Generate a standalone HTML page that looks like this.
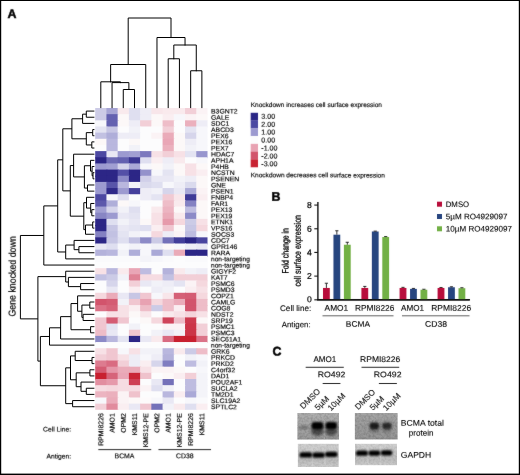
<!DOCTYPE html>
<html><head><meta charset="utf-8"><title>Figure</title>
<style>
html,body{margin:0;padding:0;background:#fff;}
body{width:520px;height:475px;overflow:hidden;font-family:"Liberation Sans", sans-serif;}
svg{display:block;}
</style></head><body>
<svg width="520" height="475" viewBox="0 0 520 475" text-rendering="geometricPrecision">
<defs><filter id="gs" filterUnits="userSpaceOnUse" x="0" y="0" width="520" height="475"><feOffset dx="0" dy="0"/></filter><filter id="sf" filterUnits="userSpaceOnUse" x="0" y="0" width="520" height="475"><feConvolveMatrix order="3" kernelMatrix="0.15 0.6 0.15 0.6 8 0.6 0.15 0.6 0.15" edgeMode="none" preserveAlpha="false"/></filter><filter id="sf2" filterUnits="userSpaceOnUse" x="0" y="0" width="520" height="475"><feConvolveMatrix order="3" kernelMatrix="0.05 0.3 0.05 0.3 8 0.3 0.05 0.3 0.05" edgeMode="none" preserveAlpha="false"/></filter></defs><g filter="url(#gs)">
<rect x="0" y="0" width="520" height="475" fill="#fff"/>
<rect x="0" y="0" width="520" height="1" fill="#000"/><rect x="518.8" y="0" width="1.2" height="475" fill="#000"/><rect x="0" y="0" width="1.2" height="475" fill="#000"/><rect x="0" y="473.6" width="520" height="1.4" fill="#000"/>
<g shape-rendering="auto">
<rect x="95.20" y="108.00" width="12.23" height="7.16" fill="#cccbe6"/>
<rect x="106.43" y="108.00" width="12.23" height="7.16" fill="#a6a4d4"/>
<rect x="117.66" y="108.00" width="12.23" height="7.16" fill="#f9eaed"/>
<rect x="128.89" y="108.00" width="12.23" height="7.16" fill="#dfdff0"/>
<rect x="140.12" y="108.00" width="12.23" height="7.16" fill="#eeedf6"/>
<rect x="151.35" y="108.00" width="12.23" height="7.16" fill="#f8e6ea"/>
<rect x="162.58" y="108.00" width="12.23" height="7.16" fill="#f9eaed"/>
<rect x="173.81" y="108.00" width="12.23" height="7.16" fill="#f9eaed"/>
<rect x="185.04" y="108.00" width="12.23" height="7.16" fill="#f2cfd7"/>
<rect x="196.27" y="108.00" width="11.23" height="7.16" fill="#fbf3f5"/>
<rect x="95.20" y="114.16" width="12.23" height="7.16" fill="#cccbe6"/>
<rect x="106.43" y="114.16" width="12.23" height="7.16" fill="#6461b0"/>
<rect x="117.66" y="114.16" width="12.23" height="7.16" fill="#fcf8f8"/>
<rect x="128.89" y="114.16" width="12.23" height="7.16" fill="#dfdff0"/>
<rect x="140.12" y="114.16" width="12.23" height="7.16" fill="#eeedf6"/>
<rect x="151.35" y="114.16" width="12.23" height="7.16" fill="#fcf8f8"/>
<rect x="162.58" y="114.16" width="12.23" height="7.16" fill="#faeef1"/>
<rect x="173.81" y="114.16" width="12.23" height="7.16" fill="#f7f7fb"/>
<rect x="185.04" y="114.16" width="12.23" height="7.16" fill="#fbf3f5"/>
<rect x="196.27" y="114.16" width="11.23" height="7.16" fill="#fcf8f8"/>
<rect x="95.20" y="120.32" width="12.23" height="7.16" fill="#f7f7fb"/>
<rect x="106.43" y="120.32" width="12.23" height="7.16" fill="#6461b0"/>
<rect x="117.66" y="120.32" width="12.23" height="7.16" fill="#fcf8f8"/>
<rect x="128.89" y="120.32" width="12.23" height="7.16" fill="#eeedf6"/>
<rect x="140.12" y="120.32" width="12.23" height="7.16" fill="#f2cfd7"/>
<rect x="151.35" y="120.32" width="12.23" height="7.16" fill="#fcf8f8"/>
<rect x="162.58" y="120.32" width="12.23" height="7.16" fill="#eebdc8"/>
<rect x="173.81" y="120.32" width="12.23" height="7.16" fill="#fcfcfd"/>
<rect x="185.04" y="120.32" width="12.23" height="7.16" fill="#ebb0bd"/>
<rect x="196.27" y="120.32" width="11.23" height="7.16" fill="#eeedf6"/>
<rect x="95.20" y="126.48" width="12.23" height="7.16" fill="#e4e4f2"/>
<rect x="106.43" y="126.48" width="12.23" height="7.16" fill="#c7c6e4"/>
<rect x="117.66" y="126.48" width="12.23" height="7.16" fill="#fcfcfd"/>
<rect x="128.89" y="126.48" width="12.23" height="7.16" fill="#f2f2f8"/>
<rect x="140.12" y="126.48" width="12.23" height="7.16" fill="#fcfcfd"/>
<rect x="151.35" y="126.48" width="12.23" height="7.16" fill="#fcfcfd"/>
<rect x="162.58" y="126.48" width="12.23" height="7.16" fill="#f2cfd7"/>
<rect x="173.81" y="126.48" width="12.23" height="7.16" fill="#fcfcfd"/>
<rect x="185.04" y="126.48" width="12.23" height="7.16" fill="#e4e4f2"/>
<rect x="196.27" y="126.48" width="11.23" height="7.16" fill="#f7f7fb"/>
<rect x="95.20" y="132.64" width="12.23" height="7.16" fill="#c2c1e2"/>
<rect x="106.43" y="132.64" width="12.23" height="7.16" fill="#afaed9"/>
<rect x="117.66" y="132.64" width="12.23" height="7.16" fill="#eeedf6"/>
<rect x="128.89" y="132.64" width="12.23" height="7.16" fill="#eeedf6"/>
<rect x="140.12" y="132.64" width="12.23" height="7.16" fill="#fcfcfd"/>
<rect x="151.35" y="132.64" width="12.23" height="7.16" fill="#fbf3f5"/>
<rect x="162.58" y="132.64" width="12.23" height="7.16" fill="#eaabb9"/>
<rect x="173.81" y="132.64" width="12.23" height="7.16" fill="#fcf8f8"/>
<rect x="185.04" y="132.64" width="12.23" height="7.16" fill="#d6d5eb"/>
<rect x="196.27" y="132.64" width="11.23" height="7.16" fill="#f7f7fb"/>
<rect x="95.20" y="138.80" width="12.23" height="7.16" fill="#fcf8f8"/>
<rect x="106.43" y="138.80" width="12.23" height="7.16" fill="#b9b7de"/>
<rect x="117.66" y="138.80" width="12.23" height="7.16" fill="#fcfcfd"/>
<rect x="128.89" y="138.80" width="12.23" height="7.16" fill="#fcf8f8"/>
<rect x="140.12" y="138.80" width="12.23" height="7.16" fill="#fcfcfd"/>
<rect x="151.35" y="138.80" width="12.23" height="7.16" fill="#fcfcfd"/>
<rect x="162.58" y="138.80" width="12.23" height="7.16" fill="#e9a6b6"/>
<rect x="173.81" y="138.80" width="12.23" height="7.16" fill="#fcf8f8"/>
<rect x="185.04" y="138.80" width="12.23" height="7.16" fill="#eeedf6"/>
<rect x="196.27" y="138.80" width="11.23" height="7.16" fill="#f7f7fb"/>
<rect x="95.20" y="144.96" width="12.23" height="7.16" fill="#fcfcfd"/>
<rect x="106.43" y="144.96" width="12.23" height="7.16" fill="#b9b7de"/>
<rect x="117.66" y="144.96" width="12.23" height="7.16" fill="#fcfcfd"/>
<rect x="128.89" y="144.96" width="12.23" height="7.16" fill="#f2f2f8"/>
<rect x="140.12" y="144.96" width="12.23" height="7.16" fill="#fcfcfd"/>
<rect x="151.35" y="144.96" width="12.23" height="7.16" fill="#fcfcfd"/>
<rect x="162.58" y="144.96" width="12.23" height="7.16" fill="#ebb0bd"/>
<rect x="173.81" y="144.96" width="12.23" height="7.16" fill="#fcf8f8"/>
<rect x="185.04" y="144.96" width="12.23" height="7.16" fill="#f2f2f8"/>
<rect x="196.27" y="144.96" width="11.23" height="7.16" fill="#f7f7fb"/>
<rect x="95.20" y="151.11" width="12.23" height="7.16" fill="#4c48a2"/>
<rect x="106.43" y="151.11" width="12.23" height="7.16" fill="#e9e8f4"/>
<rect x="117.66" y="151.11" width="12.23" height="7.16" fill="#9c9ad0"/>
<rect x="128.89" y="151.11" width="12.23" height="7.16" fill="#a19fd2"/>
<rect x="140.12" y="151.11" width="12.23" height="7.16" fill="#7c79be"/>
<rect x="151.35" y="151.11" width="12.23" height="7.16" fill="#f7e1e6"/>
<rect x="162.58" y="151.11" width="12.23" height="7.16" fill="#f2cfd7"/>
<rect x="173.81" y="151.11" width="12.23" height="7.16" fill="#f7e1e6"/>
<rect x="185.04" y="151.11" width="12.23" height="7.16" fill="#e4e4f2"/>
<rect x="196.27" y="151.11" width="11.23" height="7.16" fill="#9896ce"/>
<rect x="95.20" y="157.27" width="12.23" height="7.16" fill="#2c2686"/>
<rect x="106.43" y="157.27" width="12.23" height="7.16" fill="#6c69b4"/>
<rect x="117.66" y="157.27" width="12.23" height="7.16" fill="#6461b0"/>
<rect x="128.89" y="157.27" width="12.23" height="7.16" fill="#3c3794"/>
<rect x="140.12" y="157.27" width="12.23" height="7.16" fill="#dfdff0"/>
<rect x="151.35" y="157.27" width="12.23" height="7.16" fill="#faeef1"/>
<rect x="162.58" y="157.27" width="12.23" height="7.16" fill="#eeedf6"/>
<rect x="173.81" y="157.27" width="12.23" height="7.16" fill="#f9eaed"/>
<rect x="185.04" y="157.27" width="12.23" height="7.16" fill="#fcfcfd"/>
<rect x="196.27" y="157.27" width="11.23" height="7.16" fill="#f7f7fb"/>
<rect x="95.20" y="163.43" width="12.23" height="7.16" fill="#9c9ad0"/>
<rect x="106.43" y="163.43" width="12.23" height="7.16" fill="#a19fd2"/>
<rect x="117.66" y="163.43" width="12.23" height="7.16" fill="#d6d5eb"/>
<rect x="128.89" y="163.43" width="12.23" height="7.16" fill="#aaa9d7"/>
<rect x="140.12" y="163.43" width="12.23" height="7.16" fill="#f7f7fb"/>
<rect x="151.35" y="163.43" width="12.23" height="7.16" fill="#fcf8f8"/>
<rect x="162.58" y="163.43" width="12.23" height="7.16" fill="#f2f2f8"/>
<rect x="173.81" y="163.43" width="12.23" height="7.16" fill="#fcf8f8"/>
<rect x="185.04" y="163.43" width="12.23" height="7.16" fill="#f7e1e6"/>
<rect x="196.27" y="163.43" width="11.23" height="7.16" fill="#fcf8f8"/>
<rect x="95.20" y="169.59" width="12.23" height="7.16" fill="#2c2686"/>
<rect x="106.43" y="169.59" width="12.23" height="7.16" fill="#2c2686"/>
<rect x="117.66" y="169.59" width="12.23" height="7.16" fill="#5450a7"/>
<rect x="128.89" y="169.59" width="12.23" height="7.16" fill="#2c2686"/>
<rect x="140.12" y="169.59" width="12.23" height="7.16" fill="#9492cb"/>
<rect x="151.35" y="169.59" width="12.23" height="7.16" fill="#f7f7fb"/>
<rect x="162.58" y="169.59" width="12.23" height="7.16" fill="#e4e4f2"/>
<rect x="173.81" y="169.59" width="12.23" height="7.16" fill="#fcf8f8"/>
<rect x="185.04" y="169.59" width="12.23" height="7.16" fill="#f7e1e6"/>
<rect x="196.27" y="169.59" width="11.23" height="7.16" fill="#faeef1"/>
<rect x="95.20" y="175.75" width="12.23" height="7.16" fill="#2c2686"/>
<rect x="106.43" y="175.75" width="12.23" height="7.16" fill="#2c2686"/>
<rect x="117.66" y="175.75" width="12.23" height="7.16" fill="#8c8ac7"/>
<rect x="128.89" y="175.75" width="12.23" height="7.16" fill="#2c2686"/>
<rect x="140.12" y="175.75" width="12.23" height="7.16" fill="#d1d0e9"/>
<rect x="151.35" y="175.75" width="12.23" height="7.16" fill="#e9e8f4"/>
<rect x="162.58" y="175.75" width="12.23" height="7.16" fill="#e9e8f4"/>
<rect x="173.81" y="175.75" width="12.23" height="7.16" fill="#f2f2f8"/>
<rect x="185.04" y="175.75" width="12.23" height="7.16" fill="#eeedf6"/>
<rect x="196.27" y="175.75" width="11.23" height="7.16" fill="#fcf8f8"/>
<rect x="95.20" y="181.91" width="12.23" height="7.16" fill="#9c9ad0"/>
<rect x="106.43" y="181.91" width="12.23" height="7.16" fill="#5854a9"/>
<rect x="117.66" y="181.91" width="12.23" height="7.16" fill="#b9b7de"/>
<rect x="128.89" y="181.91" width="12.23" height="7.16" fill="#f2f2f8"/>
<rect x="140.12" y="181.91" width="12.23" height="7.16" fill="#dadaed"/>
<rect x="151.35" y="181.91" width="12.23" height="7.16" fill="#dfdff0"/>
<rect x="162.58" y="181.91" width="12.23" height="7.16" fill="#f7f7fb"/>
<rect x="173.81" y="181.91" width="12.23" height="7.16" fill="#eeedf6"/>
<rect x="185.04" y="181.91" width="12.23" height="7.16" fill="#dadaed"/>
<rect x="196.27" y="181.91" width="11.23" height="7.16" fill="#fcf8f8"/>
<rect x="95.20" y="188.07" width="12.23" height="7.16" fill="#9c9ad0"/>
<rect x="106.43" y="188.07" width="12.23" height="7.16" fill="#2f2989"/>
<rect x="117.66" y="188.07" width="12.23" height="7.16" fill="#9c9ad0"/>
<rect x="128.89" y="188.07" width="12.23" height="7.16" fill="#46419c"/>
<rect x="140.12" y="188.07" width="12.23" height="7.16" fill="#eeedf6"/>
<rect x="151.35" y="188.07" width="12.23" height="7.16" fill="#f2f2f8"/>
<rect x="162.58" y="188.07" width="12.23" height="7.16" fill="#d6d5eb"/>
<rect x="173.81" y="188.07" width="12.23" height="7.16" fill="#e9e8f4"/>
<rect x="185.04" y="188.07" width="12.23" height="7.16" fill="#aaa9d7"/>
<rect x="196.27" y="188.07" width="11.23" height="7.16" fill="#fbf3f5"/>
<rect x="95.20" y="194.23" width="12.23" height="7.16" fill="#4c48a2"/>
<rect x="106.43" y="194.23" width="12.23" height="7.16" fill="#f7f7fb"/>
<rect x="117.66" y="194.23" width="12.23" height="7.16" fill="#dfdff0"/>
<rect x="128.89" y="194.23" width="12.23" height="7.16" fill="#fcfcfd"/>
<rect x="140.12" y="194.23" width="12.23" height="7.16" fill="#eeedf6"/>
<rect x="151.35" y="194.23" width="12.23" height="7.16" fill="#e4e4f2"/>
<rect x="162.58" y="194.23" width="12.23" height="7.16" fill="#f1cad3"/>
<rect x="173.81" y="194.23" width="12.23" height="7.16" fill="#f8e6ea"/>
<rect x="185.04" y="194.23" width="12.23" height="7.16" fill="#3f3a97"/>
<rect x="196.27" y="194.23" width="11.23" height="7.16" fill="#faeef1"/>
<rect x="95.20" y="200.39" width="12.23" height="7.16" fill="#5c58ab"/>
<rect x="106.43" y="200.39" width="12.23" height="7.16" fill="#afaed9"/>
<rect x="117.66" y="200.39" width="12.23" height="7.16" fill="#fcf8f8"/>
<rect x="128.89" y="200.39" width="12.23" height="7.16" fill="#f7f7fb"/>
<rect x="140.12" y="200.39" width="12.23" height="7.16" fill="#fcfcfd"/>
<rect x="151.35" y="200.39" width="12.23" height="7.16" fill="#fcfcfd"/>
<rect x="162.58" y="200.39" width="12.23" height="7.16" fill="#eebdc8"/>
<rect x="173.81" y="200.39" width="12.23" height="7.16" fill="#f9eaed"/>
<rect x="185.04" y="200.39" width="12.23" height="7.16" fill="#8481c2"/>
<rect x="196.27" y="200.39" width="11.23" height="7.16" fill="#fcf8f8"/>
<rect x="95.20" y="206.55" width="12.23" height="7.16" fill="#a19fd2"/>
<rect x="106.43" y="206.55" width="12.23" height="7.16" fill="#d6d5eb"/>
<rect x="117.66" y="206.55" width="12.23" height="7.16" fill="#f2f2f8"/>
<rect x="128.89" y="206.55" width="12.23" height="7.16" fill="#dfdff0"/>
<rect x="140.12" y="206.55" width="12.23" height="7.16" fill="#fcfcfd"/>
<rect x="151.35" y="206.55" width="12.23" height="7.16" fill="#f9eaed"/>
<rect x="162.58" y="206.55" width="12.23" height="7.16" fill="#ecb4c1"/>
<rect x="173.81" y="206.55" width="12.23" height="7.16" fill="#fcf8f8"/>
<rect x="185.04" y="206.55" width="12.23" height="7.16" fill="#bebce0"/>
<rect x="196.27" y="206.55" width="11.23" height="7.16" fill="#fcf8f8"/>
<rect x="95.20" y="212.71" width="12.23" height="7.16" fill="#8886c4"/>
<rect x="106.43" y="212.71" width="12.23" height="7.16" fill="#9c9ad0"/>
<rect x="117.66" y="212.71" width="12.23" height="7.16" fill="#e9e8f4"/>
<rect x="128.89" y="212.71" width="12.23" height="7.16" fill="#e4e4f2"/>
<rect x="140.12" y="212.71" width="12.23" height="7.16" fill="#fcfcfd"/>
<rect x="151.35" y="212.71" width="12.23" height="7.16" fill="#f7e1e6"/>
<rect x="162.58" y="212.71" width="12.23" height="7.16" fill="#eaabb9"/>
<rect x="173.81" y="212.71" width="12.23" height="7.16" fill="#f9eaed"/>
<rect x="185.04" y="212.71" width="12.23" height="7.16" fill="#8c8ac7"/>
<rect x="196.27" y="212.71" width="11.23" height="7.16" fill="#fcf8f8"/>
<rect x="95.20" y="218.87" width="12.23" height="7.16" fill="#2c2686"/>
<rect x="106.43" y="218.87" width="12.23" height="7.16" fill="#dfdff0"/>
<rect x="117.66" y="218.87" width="12.23" height="7.16" fill="#f2f2f8"/>
<rect x="128.89" y="218.87" width="12.23" height="7.16" fill="#e9e8f4"/>
<rect x="140.12" y="218.87" width="12.23" height="7.16" fill="#fcf8f8"/>
<rect x="151.35" y="218.87" width="12.23" height="7.16" fill="#f7e1e6"/>
<rect x="162.58" y="218.87" width="12.23" height="7.16" fill="#e69aab"/>
<rect x="173.81" y="218.87" width="12.23" height="7.16" fill="#f5d8de"/>
<rect x="185.04" y="218.87" width="12.23" height="7.16" fill="#cccbe6"/>
<rect x="196.27" y="218.87" width="11.23" height="7.16" fill="#f7e1e6"/>
<rect x="95.20" y="225.02" width="12.23" height="7.16" fill="#2c2686"/>
<rect x="106.43" y="225.02" width="12.23" height="7.16" fill="#c7c6e4"/>
<rect x="117.66" y="225.02" width="12.23" height="7.16" fill="#e9e8f4"/>
<rect x="128.89" y="225.02" width="12.23" height="7.16" fill="#e4e4f2"/>
<rect x="140.12" y="225.02" width="12.23" height="7.16" fill="#dfdff0"/>
<rect x="151.35" y="225.02" width="12.23" height="7.16" fill="#faeef1"/>
<rect x="162.58" y="225.02" width="12.23" height="7.16" fill="#f0c6d0"/>
<rect x="173.81" y="225.02" width="12.23" height="7.16" fill="#fcf8f8"/>
<rect x="185.04" y="225.02" width="12.23" height="7.16" fill="#c7c6e4"/>
<rect x="196.27" y="225.02" width="11.23" height="7.16" fill="#f5d8de"/>
<rect x="95.20" y="231.18" width="12.23" height="7.16" fill="#8481c2"/>
<rect x="106.43" y="231.18" width="12.23" height="7.16" fill="#c2c1e2"/>
<rect x="117.66" y="231.18" width="12.23" height="7.16" fill="#e4e4f2"/>
<rect x="128.89" y="231.18" width="12.23" height="7.16" fill="#f2f2f8"/>
<rect x="140.12" y="231.18" width="12.23" height="7.16" fill="#f7f7fb"/>
<rect x="151.35" y="231.18" width="12.23" height="7.16" fill="#f5d8de"/>
<rect x="162.58" y="231.18" width="12.23" height="7.16" fill="#eeedf6"/>
<rect x="173.81" y="231.18" width="12.23" height="7.16" fill="#fbf3f5"/>
<rect x="185.04" y="231.18" width="12.23" height="7.16" fill="#bebce0"/>
<rect x="196.27" y="231.18" width="11.23" height="7.16" fill="#f7f7fb"/>
<rect x="95.20" y="237.34" width="12.23" height="7.16" fill="#2c2686"/>
<rect x="106.43" y="237.34" width="12.23" height="7.16" fill="#c7c6e4"/>
<rect x="117.66" y="237.34" width="12.23" height="7.16" fill="#dfdff0"/>
<rect x="128.89" y="237.34" width="12.23" height="7.16" fill="#c2c1e2"/>
<rect x="140.12" y="237.34" width="12.23" height="7.16" fill="#8c8ac7"/>
<rect x="151.35" y="237.34" width="12.23" height="7.16" fill="#cccbe6"/>
<rect x="162.58" y="237.34" width="12.23" height="7.16" fill="#7471b9"/>
<rect x="173.81" y="237.34" width="12.23" height="7.16" fill="#423e9a"/>
<rect x="185.04" y="237.34" width="12.23" height="7.16" fill="#2c2686"/>
<rect x="196.27" y="237.34" width="11.23" height="7.16" fill="#49459f"/>
<rect x="95.20" y="243.50" width="12.23" height="7.16" fill="#e9e8f4"/>
<rect x="106.43" y="243.50" width="12.23" height="7.16" fill="#dfdff0"/>
<rect x="117.66" y="243.50" width="12.23" height="7.16" fill="#f7f7fb"/>
<rect x="128.89" y="243.50" width="12.23" height="7.16" fill="#f2f2f8"/>
<rect x="140.12" y="243.50" width="12.23" height="7.16" fill="#f7f7fb"/>
<rect x="151.35" y="243.50" width="12.23" height="7.16" fill="#f2f2f8"/>
<rect x="162.58" y="243.50" width="12.23" height="7.16" fill="#fcf8f8"/>
<rect x="173.81" y="243.50" width="12.23" height="7.16" fill="#f7f7fb"/>
<rect x="185.04" y="243.50" width="12.23" height="7.16" fill="#eeedf6"/>
<rect x="196.27" y="243.50" width="11.23" height="7.16" fill="#e9e8f4"/>
<rect x="95.20" y="249.66" width="12.23" height="7.16" fill="#b4b2db"/>
<rect x="106.43" y="249.66" width="12.23" height="7.16" fill="#b9b7de"/>
<rect x="117.66" y="249.66" width="12.23" height="7.16" fill="#f2f2f8"/>
<rect x="128.89" y="249.66" width="12.23" height="7.16" fill="#afaed9"/>
<rect x="140.12" y="249.66" width="12.23" height="7.16" fill="#f7f7fb"/>
<rect x="151.35" y="249.66" width="12.23" height="7.16" fill="#aaa9d7"/>
<rect x="162.58" y="249.66" width="12.23" height="7.16" fill="#dfdff0"/>
<rect x="173.81" y="249.66" width="12.23" height="7.16" fill="#eaabb9"/>
<rect x="185.04" y="249.66" width="12.23" height="7.16" fill="#2c2686"/>
<rect x="196.27" y="249.66" width="11.23" height="7.16" fill="#2c2686"/>
<rect x="95.20" y="255.82" width="12.23" height="7.16" fill="#fafafc"/>
<rect x="106.43" y="255.82" width="12.23" height="7.16" fill="#fafafc"/>
<rect x="117.66" y="255.82" width="12.23" height="7.16" fill="#fafafc"/>
<rect x="128.89" y="255.82" width="12.23" height="7.16" fill="#fafafc"/>
<rect x="140.12" y="255.82" width="12.23" height="7.16" fill="#f4f4f9"/>
<rect x="151.35" y="255.82" width="12.23" height="7.16" fill="#f7f7fb"/>
<rect x="162.58" y="255.82" width="12.23" height="7.16" fill="#fafafc"/>
<rect x="173.81" y="255.82" width="12.23" height="7.16" fill="#fcfcfd"/>
<rect x="185.04" y="255.82" width="12.23" height="7.16" fill="#fafafc"/>
<rect x="196.27" y="255.82" width="11.23" height="7.16" fill="#fafafc"/>
<rect x="95.20" y="261.98" width="12.23" height="7.16" fill="#fcfcfd"/>
<rect x="106.43" y="261.98" width="12.23" height="7.16" fill="#fcfcfd"/>
<rect x="117.66" y="261.98" width="12.23" height="7.16" fill="#fcfcfd"/>
<rect x="128.89" y="261.98" width="12.23" height="7.16" fill="#fcfcfd"/>
<rect x="140.12" y="261.98" width="12.23" height="7.16" fill="#fcfcfd"/>
<rect x="151.35" y="261.98" width="12.23" height="7.16" fill="#fcfcfd"/>
<rect x="162.58" y="261.98" width="12.23" height="7.16" fill="#fcfcfd"/>
<rect x="173.81" y="261.98" width="12.23" height="7.16" fill="#fcfcfd"/>
<rect x="185.04" y="261.98" width="12.23" height="7.16" fill="#fcfcfd"/>
<rect x="196.27" y="261.98" width="11.23" height="7.16" fill="#fcfcfd"/>
<rect x="95.20" y="268.14" width="12.23" height="7.16" fill="#f7e1e6"/>
<rect x="106.43" y="268.14" width="12.23" height="7.16" fill="#b9b7de"/>
<rect x="117.66" y="268.14" width="12.23" height="7.16" fill="#f9eaed"/>
<rect x="128.89" y="268.14" width="12.23" height="7.16" fill="#e9a6b6"/>
<rect x="140.12" y="268.14" width="12.23" height="7.16" fill="#bebce0"/>
<rect x="151.35" y="268.14" width="12.23" height="7.16" fill="#fcfcfd"/>
<rect x="162.58" y="268.14" width="12.23" height="7.16" fill="#b4b2db"/>
<rect x="173.81" y="268.14" width="12.23" height="7.16" fill="#f9eaed"/>
<rect x="185.04" y="268.14" width="12.23" height="7.16" fill="#f2f2f8"/>
<rect x="196.27" y="268.14" width="11.23" height="7.16" fill="#eeedf6"/>
<rect x="95.20" y="274.30" width="12.23" height="7.16" fill="#c2c1e2"/>
<rect x="106.43" y="274.30" width="12.23" height="7.16" fill="#cccbe6"/>
<rect x="117.66" y="274.30" width="12.23" height="7.16" fill="#f2f2f8"/>
<rect x="128.89" y="274.30" width="12.23" height="7.16" fill="#df8396"/>
<rect x="140.12" y="274.30" width="12.23" height="7.16" fill="#f6dce2"/>
<rect x="151.35" y="274.30" width="12.23" height="7.16" fill="#f6dce2"/>
<rect x="162.58" y="274.30" width="12.23" height="7.16" fill="#c2c1e2"/>
<rect x="173.81" y="274.30" width="12.23" height="7.16" fill="#f2cfd7"/>
<rect x="185.04" y="274.30" width="12.23" height="7.16" fill="#f2cfd7"/>
<rect x="196.27" y="274.30" width="11.23" height="7.16" fill="#f2cfd7"/>
<rect x="95.20" y="280.46" width="12.23" height="7.16" fill="#fcfcfd"/>
<rect x="106.43" y="280.46" width="12.23" height="7.16" fill="#d6d5eb"/>
<rect x="117.66" y="280.46" width="12.23" height="7.16" fill="#fcfcfd"/>
<rect x="128.89" y="280.46" width="12.23" height="7.16" fill="#f2cfd7"/>
<rect x="140.12" y="280.46" width="12.23" height="7.16" fill="#e9e8f4"/>
<rect x="151.35" y="280.46" width="12.23" height="7.16" fill="#f2f2f8"/>
<rect x="162.58" y="280.46" width="12.23" height="7.16" fill="#eeedf6"/>
<rect x="173.81" y="280.46" width="12.23" height="7.16" fill="#e4e4f2"/>
<rect x="185.04" y="280.46" width="12.23" height="7.16" fill="#fbf3f5"/>
<rect x="196.27" y="280.46" width="11.23" height="7.16" fill="#f5d8de"/>
<rect x="95.20" y="286.62" width="12.23" height="7.16" fill="#fcfcfd"/>
<rect x="106.43" y="286.62" width="12.23" height="7.16" fill="#e9e8f4"/>
<rect x="117.66" y="286.62" width="12.23" height="7.16" fill="#fcfcfd"/>
<rect x="128.89" y="286.62" width="12.23" height="7.16" fill="#faeef1"/>
<rect x="140.12" y="286.62" width="12.23" height="7.16" fill="#fcfcfd"/>
<rect x="151.35" y="286.62" width="12.23" height="7.16" fill="#eeedf6"/>
<rect x="162.58" y="286.62" width="12.23" height="7.16" fill="#f2f2f8"/>
<rect x="173.81" y="286.62" width="12.23" height="7.16" fill="#fcfcfd"/>
<rect x="185.04" y="286.62" width="12.23" height="7.16" fill="#faeef1"/>
<rect x="196.27" y="286.62" width="11.23" height="7.16" fill="#f7e1e6"/>
<rect x="95.20" y="292.78" width="12.23" height="7.16" fill="#f5d8de"/>
<rect x="106.43" y="292.78" width="12.23" height="7.16" fill="#eaabb9"/>
<rect x="117.66" y="292.78" width="12.23" height="7.16" fill="#e9e8f4"/>
<rect x="128.89" y="292.78" width="12.23" height="7.16" fill="#c7c6e4"/>
<rect x="140.12" y="292.78" width="12.23" height="7.16" fill="#f0c6d0"/>
<rect x="151.35" y="292.78" width="12.23" height="7.16" fill="#f7f7fb"/>
<rect x="162.58" y="292.78" width="12.23" height="7.16" fill="#f8e6ea"/>
<rect x="173.81" y="292.78" width="12.23" height="7.16" fill="#d56076"/>
<rect x="185.04" y="292.78" width="12.23" height="7.16" fill="#d45c73"/>
<rect x="196.27" y="292.78" width="11.23" height="7.16" fill="#f5d8de"/>
<rect x="95.20" y="298.93" width="12.23" height="7.16" fill="#d2546c"/>
<rect x="106.43" y="298.93" width="12.23" height="7.16" fill="#d45c73"/>
<rect x="117.66" y="298.93" width="12.23" height="7.16" fill="#f2f2f8"/>
<rect x="128.89" y="298.93" width="12.23" height="7.16" fill="#f0c6d0"/>
<rect x="140.12" y="298.93" width="12.23" height="7.16" fill="#e8a2b2"/>
<rect x="151.35" y="298.93" width="12.23" height="7.16" fill="#f5d8de"/>
<rect x="162.58" y="298.93" width="12.23" height="7.16" fill="#eebdc8"/>
<rect x="173.81" y="298.93" width="12.23" height="7.16" fill="#eaabb9"/>
<rect x="185.04" y="298.93" width="12.23" height="7.16" fill="#d2546c"/>
<rect x="196.27" y="298.93" width="11.23" height="7.16" fill="#eebdc8"/>
<rect x="95.20" y="305.09" width="12.23" height="7.16" fill="#db7388"/>
<rect x="106.43" y="305.09" width="12.23" height="7.16" fill="#d6647a"/>
<rect x="117.66" y="305.09" width="12.23" height="7.16" fill="#f7e1e6"/>
<rect x="128.89" y="305.09" width="12.23" height="7.16" fill="#faeef1"/>
<rect x="140.12" y="305.09" width="12.23" height="7.16" fill="#eebdc8"/>
<rect x="151.35" y="305.09" width="12.23" height="7.16" fill="#cccbe6"/>
<rect x="162.58" y="305.09" width="12.23" height="7.16" fill="#eebdc8"/>
<rect x="173.81" y="305.09" width="12.23" height="7.16" fill="#faeef1"/>
<rect x="185.04" y="305.09" width="12.23" height="7.16" fill="#d2546c"/>
<rect x="196.27" y="305.09" width="11.23" height="7.16" fill="#eebdc8"/>
<rect x="95.20" y="311.25" width="12.23" height="7.16" fill="#fcfcfd"/>
<rect x="106.43" y="311.25" width="12.23" height="7.16" fill="#f7e1e6"/>
<rect x="117.66" y="311.25" width="12.23" height="7.16" fill="#f7e1e6"/>
<rect x="128.89" y="311.25" width="12.23" height="7.16" fill="#fcf8f8"/>
<rect x="140.12" y="311.25" width="12.23" height="7.16" fill="#f8e6ea"/>
<rect x="151.35" y="311.25" width="12.23" height="7.16" fill="#fcfcfd"/>
<rect x="162.58" y="311.25" width="12.23" height="7.16" fill="#f9eaed"/>
<rect x="173.81" y="311.25" width="12.23" height="7.16" fill="#f7e1e6"/>
<rect x="185.04" y="311.25" width="12.23" height="7.16" fill="#f4d4db"/>
<rect x="196.27" y="311.25" width="11.23" height="7.16" fill="#f7e1e6"/>
<rect x="95.20" y="317.41" width="12.23" height="7.16" fill="#f0c6d0"/>
<rect x="106.43" y="317.41" width="12.23" height="7.16" fill="#d45c73"/>
<rect x="117.66" y="317.41" width="12.23" height="7.16" fill="#f0c6d0"/>
<rect x="128.89" y="317.41" width="12.23" height="7.16" fill="#fcfcfd"/>
<rect x="140.12" y="317.41" width="12.23" height="7.16" fill="#fcf8f8"/>
<rect x="151.35" y="317.41" width="12.23" height="7.16" fill="#f5d8de"/>
<rect x="162.58" y="317.41" width="12.23" height="7.16" fill="#cf445a"/>
<rect x="173.81" y="317.41" width="12.23" height="7.16" fill="#eebdc8"/>
<rect x="185.04" y="317.41" width="12.23" height="7.16" fill="#cd3a4e"/>
<rect x="196.27" y="317.41" width="11.23" height="7.16" fill="#fcf8f8"/>
<rect x="95.20" y="323.57" width="12.23" height="7.16" fill="#f0c6d0"/>
<rect x="106.43" y="323.57" width="12.23" height="7.16" fill="#e4e4f2"/>
<rect x="117.66" y="323.57" width="12.23" height="7.16" fill="#fcfcfd"/>
<rect x="128.89" y="323.57" width="12.23" height="7.16" fill="#f2f2f8"/>
<rect x="140.12" y="323.57" width="12.23" height="7.16" fill="#fcfcfd"/>
<rect x="151.35" y="323.57" width="12.23" height="7.16" fill="#fcfcfd"/>
<rect x="162.58" y="323.57" width="12.23" height="7.16" fill="#fbf3f5"/>
<rect x="173.81" y="323.57" width="12.23" height="7.16" fill="#fbf3f5"/>
<rect x="185.04" y="323.57" width="12.23" height="7.16" fill="#cc3548"/>
<rect x="196.27" y="323.57" width="11.23" height="7.16" fill="#f2cfd7"/>
<rect x="95.20" y="329.73" width="12.23" height="7.16" fill="#eebdc8"/>
<rect x="106.43" y="329.73" width="12.23" height="7.16" fill="#e9e8f4"/>
<rect x="117.66" y="329.73" width="12.23" height="7.16" fill="#fcfcfd"/>
<rect x="128.89" y="329.73" width="12.23" height="7.16" fill="#f0c6d0"/>
<rect x="140.12" y="329.73" width="12.23" height="7.16" fill="#fcfcfd"/>
<rect x="151.35" y="329.73" width="12.23" height="7.16" fill="#f2f2f8"/>
<rect x="162.58" y="329.73" width="12.23" height="7.16" fill="#e9e8f4"/>
<rect x="173.81" y="329.73" width="12.23" height="7.16" fill="#f2f2f8"/>
<rect x="185.04" y="329.73" width="12.23" height="7.16" fill="#cc3548"/>
<rect x="196.27" y="329.73" width="11.23" height="7.16" fill="#f2cfd7"/>
<rect x="95.20" y="335.89" width="12.23" height="7.16" fill="#8c8ac7"/>
<rect x="106.43" y="335.89" width="12.23" height="7.16" fill="#b9b7de"/>
<rect x="117.66" y="335.89" width="12.23" height="7.16" fill="#e4e4f2"/>
<rect x="128.89" y="335.89" width="12.23" height="7.16" fill="#2c2686"/>
<rect x="140.12" y="335.89" width="12.23" height="7.16" fill="#e9e8f4"/>
<rect x="151.35" y="335.89" width="12.23" height="7.16" fill="#f9eaed"/>
<rect x="162.58" y="335.89" width="12.23" height="7.16" fill="#d96b81"/>
<rect x="173.81" y="335.89" width="12.23" height="7.16" fill="#c82030"/>
<rect x="185.04" y="335.89" width="12.23" height="7.16" fill="#c82030"/>
<rect x="196.27" y="335.89" width="11.23" height="7.16" fill="#db7388"/>
<rect x="95.20" y="342.05" width="12.23" height="7.16" fill="#fcfcfd"/>
<rect x="106.43" y="342.05" width="12.23" height="7.16" fill="#fcfcfd"/>
<rect x="117.66" y="342.05" width="12.23" height="7.16" fill="#fcfcfd"/>
<rect x="128.89" y="342.05" width="12.23" height="7.16" fill="#fcfcfd"/>
<rect x="140.12" y="342.05" width="12.23" height="7.16" fill="#fcfcfd"/>
<rect x="151.35" y="342.05" width="12.23" height="7.16" fill="#fcfcfd"/>
<rect x="162.58" y="342.05" width="12.23" height="7.16" fill="#fcfcfd"/>
<rect x="173.81" y="342.05" width="12.23" height="7.16" fill="#fcfcfd"/>
<rect x="185.04" y="342.05" width="12.23" height="7.16" fill="#fcfcfd"/>
<rect x="196.27" y="342.05" width="11.23" height="7.16" fill="#fcfcfd"/>
<rect x="95.20" y="348.21" width="12.23" height="7.16" fill="#f7e1e6"/>
<rect x="106.43" y="348.21" width="12.23" height="7.16" fill="#f0c6d0"/>
<rect x="117.66" y="348.21" width="12.23" height="7.16" fill="#f7f7fb"/>
<rect x="128.89" y="348.21" width="12.23" height="7.16" fill="#f7e1e6"/>
<rect x="140.12" y="348.21" width="12.23" height="7.16" fill="#f2f2f8"/>
<rect x="151.35" y="348.21" width="12.23" height="7.16" fill="#f2f2f8"/>
<rect x="162.58" y="348.21" width="12.23" height="7.16" fill="#b9b7de"/>
<rect x="173.81" y="348.21" width="12.23" height="7.16" fill="#f9eaed"/>
<rect x="185.04" y="348.21" width="12.23" height="7.16" fill="#cccbe6"/>
<rect x="196.27" y="348.21" width="11.23" height="7.16" fill="#eebdc8"/>
<rect x="95.20" y="354.37" width="12.23" height="7.16" fill="#f2cfd7"/>
<rect x="106.43" y="354.37" width="12.23" height="7.16" fill="#f0c6d0"/>
<rect x="117.66" y="354.37" width="12.23" height="7.16" fill="#f7e1e6"/>
<rect x="128.89" y="354.37" width="12.23" height="7.16" fill="#eeedf6"/>
<rect x="140.12" y="354.37" width="12.23" height="7.16" fill="#f7f7fb"/>
<rect x="151.35" y="354.37" width="12.23" height="7.16" fill="#eeedf6"/>
<rect x="162.58" y="354.37" width="12.23" height="7.16" fill="#b4b2db"/>
<rect x="173.81" y="354.37" width="12.23" height="7.16" fill="#fcfcfd"/>
<rect x="185.04" y="354.37" width="12.23" height="7.16" fill="#f2f2f8"/>
<rect x="196.27" y="354.37" width="11.23" height="7.16" fill="#f7f7fb"/>
<rect x="95.20" y="360.53" width="12.23" height="7.16" fill="#dd7b8f"/>
<rect x="106.43" y="360.53" width="12.23" height="7.16" fill="#d96b81"/>
<rect x="117.66" y="360.53" width="12.23" height="7.16" fill="#f2cfd7"/>
<rect x="128.89" y="360.53" width="12.23" height="7.16" fill="#eeedf6"/>
<rect x="140.12" y="360.53" width="12.23" height="7.16" fill="#faeef1"/>
<rect x="151.35" y="360.53" width="12.23" height="7.16" fill="#d6d5eb"/>
<rect x="162.58" y="360.53" width="12.23" height="7.16" fill="#807dc0"/>
<rect x="173.81" y="360.53" width="12.23" height="7.16" fill="#fcfcfd"/>
<rect x="185.04" y="360.53" width="12.23" height="7.16" fill="#bebce0"/>
<rect x="196.27" y="360.53" width="11.23" height="7.16" fill="#f2f2f8"/>
<rect x="95.20" y="366.69" width="12.23" height="7.16" fill="#d45c73"/>
<rect x="106.43" y="366.69" width="12.23" height="7.16" fill="#e596a8"/>
<rect x="117.66" y="366.69" width="12.23" height="7.16" fill="#eaabb9"/>
<rect x="128.89" y="366.69" width="12.23" height="7.16" fill="#eaabb9"/>
<rect x="140.12" y="366.69" width="12.23" height="7.16" fill="#f7e1e6"/>
<rect x="151.35" y="366.69" width="12.23" height="7.16" fill="#fbf3f5"/>
<rect x="162.58" y="366.69" width="12.23" height="7.16" fill="#fbf3f5"/>
<rect x="173.81" y="366.69" width="12.23" height="7.16" fill="#fcf8f8"/>
<rect x="185.04" y="366.69" width="12.23" height="7.16" fill="#fcfcfd"/>
<rect x="196.27" y="366.69" width="11.23" height="7.16" fill="#f7f7fb"/>
<rect x="95.20" y="372.84" width="12.23" height="7.16" fill="#c82030"/>
<rect x="106.43" y="372.84" width="12.23" height="7.16" fill="#d6647a"/>
<rect x="117.66" y="372.84" width="12.23" height="7.16" fill="#e9a6b6"/>
<rect x="128.89" y="372.84" width="12.23" height="7.16" fill="#c92536"/>
<rect x="140.12" y="372.84" width="12.23" height="7.16" fill="#efc2cc"/>
<rect x="151.35" y="372.84" width="12.23" height="7.16" fill="#fcfcfd"/>
<rect x="162.58" y="372.84" width="12.23" height="7.16" fill="#fcf8f8"/>
<rect x="173.81" y="372.84" width="12.23" height="7.16" fill="#faeef1"/>
<rect x="185.04" y="372.84" width="12.23" height="7.16" fill="#f2cfd7"/>
<rect x="196.27" y="372.84" width="11.23" height="7.16" fill="#f4f4f9"/>
<rect x="95.20" y="379.00" width="12.23" height="7.16" fill="#e28ea0"/>
<rect x="106.43" y="379.00" width="12.23" height="7.16" fill="#e69aab"/>
<rect x="117.66" y="379.00" width="12.23" height="7.16" fill="#f6dce2"/>
<rect x="128.89" y="379.00" width="12.23" height="7.16" fill="#ce3f54"/>
<rect x="140.12" y="379.00" width="12.23" height="7.16" fill="#fcfcfd"/>
<rect x="151.35" y="379.00" width="12.23" height="7.16" fill="#e9e8f4"/>
<rect x="162.58" y="379.00" width="12.23" height="7.16" fill="#7471b9"/>
<rect x="173.81" y="379.00" width="12.23" height="7.16" fill="#fcfcfd"/>
<rect x="185.04" y="379.00" width="12.23" height="7.16" fill="#bebce0"/>
<rect x="196.27" y="379.00" width="11.23" height="7.16" fill="#f4f4f9"/>
<rect x="95.20" y="385.16" width="12.23" height="7.16" fill="#f6dce2"/>
<rect x="106.43" y="385.16" width="12.23" height="7.16" fill="#f5d8de"/>
<rect x="117.66" y="385.16" width="12.23" height="7.16" fill="#f6dce2"/>
<rect x="128.89" y="385.16" width="12.23" height="7.16" fill="#f6dce2"/>
<rect x="140.12" y="385.16" width="12.23" height="7.16" fill="#fbf3f5"/>
<rect x="151.35" y="385.16" width="12.23" height="7.16" fill="#dfdff0"/>
<rect x="162.58" y="385.16" width="12.23" height="7.16" fill="#f2f2f8"/>
<rect x="173.81" y="385.16" width="12.23" height="7.16" fill="#fcfcfd"/>
<rect x="185.04" y="385.16" width="12.23" height="7.16" fill="#bebce0"/>
<rect x="196.27" y="385.16" width="11.23" height="7.16" fill="#f4f4f9"/>
<rect x="95.20" y="391.32" width="12.23" height="7.16" fill="#ecb4c1"/>
<rect x="106.43" y="391.32" width="12.23" height="7.16" fill="#ebb0bd"/>
<rect x="117.66" y="391.32" width="12.23" height="7.16" fill="#fbf3f5"/>
<rect x="128.89" y="391.32" width="12.23" height="7.16" fill="#efc2cc"/>
<rect x="140.12" y="391.32" width="12.23" height="7.16" fill="#fcfcfd"/>
<rect x="151.35" y="391.32" width="12.23" height="7.16" fill="#fcfcfd"/>
<rect x="162.58" y="391.32" width="12.23" height="7.16" fill="#b9b7de"/>
<rect x="173.81" y="391.32" width="12.23" height="7.16" fill="#faeef1"/>
<rect x="185.04" y="391.32" width="12.23" height="7.16" fill="#aaa9d7"/>
<rect x="196.27" y="391.32" width="11.23" height="7.16" fill="#f4f4f9"/>
<rect x="95.20" y="397.48" width="12.23" height="7.16" fill="#f7f7fb"/>
<rect x="106.43" y="397.48" width="12.23" height="7.16" fill="#eaabb9"/>
<rect x="117.66" y="397.48" width="12.23" height="7.16" fill="#fbf3f5"/>
<rect x="128.89" y="397.48" width="12.23" height="7.16" fill="#fcf8f8"/>
<rect x="140.12" y="397.48" width="12.23" height="7.16" fill="#fdfafb"/>
<rect x="151.35" y="397.48" width="12.23" height="7.16" fill="#f7f7fb"/>
<rect x="162.58" y="397.48" width="12.23" height="7.16" fill="#e9e8f4"/>
<rect x="173.81" y="397.48" width="12.23" height="7.16" fill="#fcfcfd"/>
<rect x="185.04" y="397.48" width="12.23" height="7.16" fill="#f7f7fb"/>
<rect x="196.27" y="397.48" width="11.23" height="7.16" fill="#fafafc"/>
<rect x="95.20" y="403.64" width="12.23" height="6.16" fill="#f2cfd7"/>
<rect x="106.43" y="403.64" width="12.23" height="6.16" fill="#e18b9d"/>
<rect x="117.66" y="403.64" width="12.23" height="6.16" fill="#faeef1"/>
<rect x="128.89" y="403.64" width="12.23" height="6.16" fill="#e9e8f4"/>
<rect x="140.12" y="403.64" width="12.23" height="6.16" fill="#f0c6d0"/>
<rect x="151.35" y="403.64" width="12.23" height="6.16" fill="#7471b9"/>
<rect x="162.58" y="403.64" width="12.23" height="6.16" fill="#f2f2f8"/>
<rect x="173.81" y="403.64" width="12.23" height="6.16" fill="#f9eaed"/>
<rect x="185.04" y="403.64" width="12.23" height="6.16" fill="#dfdff0"/>
<rect x="196.27" y="403.64" width="11.23" height="6.16" fill="#faeef1"/>
</g>
<g font-family='"Liberation Sans", sans-serif' font-size="6.6" fill="#000" stroke="#000" stroke-width="0.16" filter="url(#sf)">
<text transform="translate(211,113.48) skewY(0.05) scale(1.04,1)">B3GNT2</text>
<text transform="translate(211,119.64) skewY(0.05) scale(1.04,1)">GALE</text>
<text transform="translate(211,125.80) skewY(0.05) scale(1.04,1)">SDC1</text>
<text transform="translate(211,131.96) skewY(0.05) scale(1.04,1)">ABCD3</text>
<text transform="translate(211,138.12) skewY(0.05) scale(1.04,1)">PEX6</text>
<text transform="translate(211,144.28) skewY(0.05) scale(1.04,1)">PEX16</text>
<text transform="translate(211,150.43) skewY(0.05) scale(1.04,1)">PEX7</text>
<text transform="translate(211,156.59) skewY(0.05) scale(1.04,1)">HDAC7</text>
<text transform="translate(211,162.75) skewY(0.05) scale(1.04,1)">APH1A</text>
<text transform="translate(211,168.91) skewY(0.05) scale(1.04,1)">P4HB</text>
<text transform="translate(211,175.07) skewY(0.05) scale(1.04,1)">NCSTN</text>
<text transform="translate(211,181.23) skewY(0.05) scale(1.04,1)">PSENEN</text>
<text transform="translate(211,187.39) skewY(0.05) scale(1.04,1)">GNE</text>
<text transform="translate(211,193.55) skewY(0.05) scale(1.04,1)">PSEN1</text>
<text transform="translate(211,199.71) skewY(0.05) scale(1.04,1)">FNBP4</text>
<text transform="translate(211,205.87) skewY(0.05) scale(1.04,1)">FAR1</text>
<text transform="translate(211,212.03) skewY(0.05) scale(1.04,1)">PEX13</text>
<text transform="translate(211,218.19) skewY(0.05) scale(1.04,1)">PEX19</text>
<text transform="translate(211,224.34) skewY(0.05) scale(1.04,1)">ETNK1</text>
<text transform="translate(211,230.50) skewY(0.05) scale(1.04,1)">VPS16</text>
<text transform="translate(211,236.66) skewY(0.05) scale(1.04,1)">SOCS3</text>
<text transform="translate(211,242.82) skewY(0.05) scale(1.04,1)">CDC7</text>
<text transform="translate(211,248.98) skewY(0.05) scale(1.04,1)">GPR146</text>
<text transform="translate(211,255.14) skewY(0.05) scale(1.04,1)">RARA</text>
<text transform="translate(211,261.30) skewY(0.05) scale(1.0,1)">non-targeting</text>
<text transform="translate(211,267.46) skewY(0.05) scale(1.0,1)">non-targeting</text>
<text transform="translate(211,273.62) skewY(0.05) scale(1.04,1)">GIGYF2</text>
<text transform="translate(211,279.78) skewY(0.05) scale(1.04,1)">KAT7</text>
<text transform="translate(211,285.94) skewY(0.05) scale(1.04,1)">PSMC6</text>
<text transform="translate(211,292.10) skewY(0.05) scale(1.04,1)">PSMD3</text>
<text transform="translate(211,298.26) skewY(0.05) scale(1.04,1)">COPZ1</text>
<text transform="translate(211,304.41) skewY(0.05) scale(1.04,1)">CAMLG</text>
<text transform="translate(211,310.57) skewY(0.05) scale(1.04,1)">COG8</text>
<text transform="translate(211,316.73) skewY(0.05) scale(1.04,1)">NDST2</text>
<text transform="translate(211,322.89) skewY(0.05) scale(1.04,1)">SRP19</text>
<text transform="translate(211,329.05) skewY(0.05) scale(1.04,1)">PSMC1</text>
<text transform="translate(211,335.21) skewY(0.05) scale(1.04,1)">PSMC3</text>
<text transform="translate(211,341.37) skewY(0.05) scale(1.04,1)">SEC61A1</text>
<text transform="translate(211,347.53) skewY(0.05) scale(1.0,1)">non-targeting</text>
<text transform="translate(211,353.69) skewY(0.05) scale(1.04,1)">GRK6</text>
<text transform="translate(211,359.85) skewY(0.05) scale(1.04,1)">PRKCD</text>
<text transform="translate(211,366.01) skewY(0.05) scale(1.04,1)">PRKD2</text>
<text transform="translate(211,372.17) skewY(0.05) scale(1.03,1)">C4orf32</text>
<text transform="translate(211,378.32) skewY(0.05) scale(1.04,1)">DAD1</text>
<text transform="translate(211,384.48) skewY(0.05) scale(1.04,1)">POU2AF1</text>
<text transform="translate(211,390.64) skewY(0.05) scale(1.04,1)">SUCLA2</text>
<text transform="translate(211,396.80) skewY(0.05) scale(1.04,1)">TM2D1</text>
<text transform="translate(211,402.96) skewY(0.05) scale(1.04,1)">SLC19A2</text>
<text transform="translate(211,409.12) skewY(0.05) scale(1.04,1)">SPTLC2</text>
</g>
<path d="M123.28,107.60V89.50H134.50V107.60M112.05,107.60V82.60H128.89V89.50M100.81,107.60V81.80H120.47V82.60M110.64,81.80V64.50H145.74V107.60M168.19,107.60V58.75H179.43V107.60M190.66,107.60V70.75H201.88V107.60M173.81,58.75V45.00H196.27V70.75M156.97,107.60V37.50H185.04V45.00M128.19,64.50V18.00H171.00V37.50" fill="none" stroke="#000" stroke-width="1.0" stroke-linejoin="miter" stroke-linecap="square"/>
<path d="M94.40,111.08H86.30V117.24H94.40M86.30,114.16H82.60V123.40H94.40M94.40,129.56H92.70V135.72H94.40M94.40,141.88H91.80V148.03H94.40M92.70,132.64H86.30V144.96H91.80M82.60,118.78H71.90V138.80H86.30M94.40,172.67H93.00V178.83H94.40M94.40,166.51H92.10V175.75H93.00M94.40,160.35H90.50V171.13H92.10M94.40,184.99H87.50V191.15H94.40M90.50,165.74H84.40V188.07H87.50M94.40,154.19H73.60V176.91H84.40M94.40,209.63H91.80V215.79H94.40M94.40,203.47H90.70V212.71H91.80M94.40,197.31H86.50V208.09H90.70M94.40,221.94H92.70V228.10H94.40M92.70,225.02H85.50V234.26H94.40M86.50,202.70H83.80V229.64H85.50M73.60,165.55H70.30V216.17H83.80M71.90,128.79H62.80V190.86H70.30M94.40,246.58H78.90V252.74H94.40M94.40,240.42H74.10V249.66H78.90M74.10,245.04H65.70V258.90H94.40M62.80,159.82H57.70V251.97H65.70M57.70,205.90H43.80V265.06H94.40M94.40,283.54H80.60V289.70H94.40M94.40,277.38H68.40V286.62H80.60M94.40,271.22H65.70V282.00H68.40M94.40,302.01H89.80V308.17H94.40M94.40,314.33H83.10V320.49H94.40M89.80,305.09H81.90V317.41H83.10M94.40,295.86H77.60V311.25H81.90M94.40,326.65H90.60V332.81H94.40M77.60,303.55H71.00V329.73H90.60M71.00,316.64H60.60V338.97H94.40M60.60,327.81H49.50V345.13H94.40M94.40,357.45H92.00V363.61H94.40M94.40,351.29H75.20V360.53H92.00M94.40,369.77H89.90V375.92H94.40M94.40,388.24H86.30V394.40H94.40M94.40,382.08H81.00V391.32H86.30M89.90,372.84H76.20V386.70H81.00M75.20,355.91H70.50V379.77H76.20M94.40,400.56H72.60V406.72H94.40M70.50,367.84H65.70V403.64H72.60M49.50,336.47H40.40V385.74H65.70M65.70,276.61H37.90V361.10H40.40M43.80,235.48H20.40V318.86H37.90" fill="none" stroke="#000" stroke-width="1.0" stroke-linejoin="miter" stroke-linecap="butt"/>
<g font-family='"Liberation Sans", sans-serif' stroke="#000" stroke-width="0.15" filter="url(#sf)">
<text transform="translate(7.4,18.1) skewY(0.05)" font-size="12.4" font-weight="bold" stroke-width="0.45" fill="#000">A</text>
<text transform="translate(271.6,200.8) skewY(0.05)" font-size="12.4" font-weight="bold" stroke-width="0.45" fill="#000">B</text>
<text transform="translate(272.4,355.6) skewY(0.05)" font-size="12.4" font-weight="bold" stroke-width="0.45" fill="#000">C</text>
<text transform="translate(15.6,316.6) rotate(-90) skewY(0.05)" font-size="9.9" textLength="80.4" lengthAdjust="spacingAndGlyphs" fill="#000" stroke-width="0.2">Gene knocked down</text>
<text transform="translate(103.22,413.2) rotate(-90) skewY(0.05)" font-size="6.9" text-anchor="end" fill="#000">RPMI8226</text>
<text transform="translate(114.45,413.2) rotate(-90) skewY(0.05)" font-size="6.9" text-anchor="end" fill="#000">AMO1</text>
<text transform="translate(125.68,413.2) rotate(-90) skewY(0.05)" font-size="6.9" text-anchor="end" fill="#000">OPM2</text>
<text transform="translate(136.91,413.2) rotate(-90) skewY(0.05)" font-size="6.9" text-anchor="end" fill="#000">KMS11</text>
<text transform="translate(148.14,413.2) rotate(-90) skewY(0.05)" font-size="6.9" text-anchor="end" fill="#000">KMS12-PE</text>
<text transform="translate(159.37,413.2) rotate(-90) skewY(0.05)" font-size="6.9" text-anchor="end" fill="#000">OPM2</text>
<text transform="translate(170.59,413.2) rotate(-90) skewY(0.05)" font-size="6.9" text-anchor="end" fill="#000">AMO1</text>
<text transform="translate(181.83,413.2) rotate(-90) skewY(0.05)" font-size="6.9" text-anchor="end" fill="#000">KMS12-PE</text>
<text transform="translate(193.06,413.2) rotate(-90) skewY(0.05)" font-size="6.9" text-anchor="end" fill="#000">RPMI8226</text>
<text transform="translate(204.28,413.2) rotate(-90) skewY(0.05)" font-size="6.9" text-anchor="end" fill="#000">KMS11</text>
<text transform="translate(71,431.6) skewY(0.05)" font-size="6.7" text-anchor="end" fill="#000">Cell Line:</text>
<text transform="translate(71,458.5) skewY(0.05)" font-size="6.7" text-anchor="end" fill="#000">Antigen:</text>
<text transform="translate(124.5,458.3) skewY(0.05)" font-size="6.9" text-anchor="middle" fill="#000">BCMA</text>
<text transform="translate(184.9,458.3) skewY(0.05)" font-size="6.9" text-anchor="middle" fill="#000">CD38</text>
<path d="M98.3,449.6H151.2M158.5,449.6H211" stroke="#111" stroke-width="0.9" fill="none"/>
<text transform="translate(250.7,107.0) skewY(0.05)" font-size="6.6" textLength="131.3" lengthAdjust="spacingAndGlyphs" fill="#000">Knockdown increases cell surface expression</text>
<text transform="translate(250.7,177.3) skewY(0.05)" font-size="6.6" textLength="134.2" lengthAdjust="spacingAndGlyphs" fill="#000">Knockdown decreases cell surface expression</text>
<rect x="250.7" y="112.80" width="7.3" height="7.9" fill="#2c2686" stroke="none"/>
<text transform="translate(261.3,118.75) skewY(0.05)" font-size="7.1" fill="#000">3.00</text>
<rect x="250.7" y="120.56" width="7.3" height="7.9" fill="#4c48a2" stroke="none"/>
<text transform="translate(261.3,126.68) skewY(0.05)" font-size="7.1" fill="#000">2.00</text>
<rect x="250.7" y="128.32" width="7.3" height="7.9" fill="#9c9ad0" stroke="none"/>
<text transform="translate(261.3,134.61) skewY(0.05)" font-size="7.1" fill="#000">1.00</text>
<rect x="250.7" y="136.08" width="7.3" height="7.9" fill="#fcfcfd" stroke="none"/>
<text transform="translate(261.3,142.54) skewY(0.05)" font-size="7.1" fill="#000">0.00</text>
<rect x="250.7" y="143.84" width="7.3" height="7.9" fill="#e8a2b2" stroke="none"/>
<text transform="translate(261.3,150.47) skewY(0.05)" font-size="7.1" fill="#000">-1.00</text>
<rect x="250.7" y="151.60" width="7.3" height="7.9" fill="#d2546c" stroke="none"/>
<text transform="translate(261.3,158.40) skewY(0.05)" font-size="7.1" fill="#000">-2.00</text>
<rect x="250.7" y="159.36" width="7.3" height="7.9" fill="#c82030" stroke="none"/>
<text transform="translate(261.3,166.33) skewY(0.05)" font-size="7.1" fill="#000">-3.00</text>
</g>
<g font-family='"Liberation Sans", sans-serif' stroke="#000" stroke-width="0.1" filter="url(#sf2)">
<path d="M317.9,202.08V299.80H469.8" stroke="#111" stroke-width="1.4" fill="none"/>
<path d="M314.29999999999995,299.80H317.9" stroke="#111" stroke-width="1.1" fill="none"/>
<text transform="translate(311.7,302.20) skewY(0.05)" font-size="8.6" text-anchor="end" stroke-width="0.22" fill="#000">0</text>
<path d="M314.29999999999995,276.12H317.9" stroke="#111" stroke-width="1.1" fill="none"/>
<text transform="translate(311.7,279.12) skewY(0.05)" font-size="8.6" text-anchor="end" stroke-width="0.22" fill="#000">2</text>
<path d="M314.29999999999995,252.44H317.9" stroke="#111" stroke-width="1.1" fill="none"/>
<text transform="translate(311.7,255.44) skewY(0.05)" font-size="8.6" text-anchor="end" stroke-width="0.22" fill="#000">4</text>
<path d="M314.29999999999995,228.76H317.9" stroke="#111" stroke-width="1.1" fill="none"/>
<text transform="translate(311.7,231.76) skewY(0.05)" font-size="8.6" text-anchor="end" stroke-width="0.22" fill="#000">6</text>
<path d="M314.29999999999995,205.08H317.9" stroke="#111" stroke-width="1.1" fill="none"/>
<text transform="translate(311.7,208.08) skewY(0.05)" font-size="8.6" text-anchor="end" stroke-width="0.22" fill="#000">8</text>
<rect x="323.00" y="287.96" width="6.8" height="11.84" fill="#b8103a" stroke="none"/>
<path d="M326.40,287.96V283.22M324.80,283.22H328.00" stroke="#1c1c1c" stroke-width="0.9" fill="none"/>
<rect x="333.45" y="234.68" width="6.8" height="65.12" fill="#27457f" stroke="none"/>
<path d="M336.85,234.68V230.77M335.25,230.77H338.45" stroke="#1c1c1c" stroke-width="0.9" fill="none"/>
<rect x="343.90" y="244.74" width="6.8" height="55.06" fill="#72b045" stroke="none"/>
<path d="M347.30,244.74V242.26M345.70,242.26H348.90" stroke="#1c1c1c" stroke-width="0.9" fill="none"/>
<rect x="361.40" y="287.96" width="6.8" height="11.84" fill="#b8103a" stroke="none"/>
<path d="M364.80,287.96V286.42M363.20,286.42H366.40" stroke="#1c1c1c" stroke-width="0.9" fill="none"/>
<rect x="371.85" y="231.48" width="6.8" height="68.32" fill="#27457f" stroke="none"/>
<path d="M375.25,231.48V231.13M373.65,231.13H376.85" stroke="#1c1c1c" stroke-width="0.9" fill="none"/>
<rect x="382.30" y="237.05" width="6.8" height="62.75" fill="#72b045" stroke="none"/>
<path d="M385.70,237.05V236.57M384.10,236.57H387.30" stroke="#1c1c1c" stroke-width="0.9" fill="none"/>
<rect x="399.60" y="287.96" width="6.8" height="11.84" fill="#b8103a" stroke="none"/>
<path d="M403.00,287.96V287.37M401.40,287.37H404.60" stroke="#1c1c1c" stroke-width="0.9" fill="none"/>
<rect x="410.05" y="288.91" width="6.8" height="10.89" fill="#27457f" stroke="none"/>
<path d="M413.45,288.91V288.43M411.85,288.43H415.05" stroke="#1c1c1c" stroke-width="0.9" fill="none"/>
<rect x="420.50" y="289.74" width="6.8" height="10.06" fill="#72b045" stroke="none"/>
<path d="M423.90,289.74V289.26M422.30,289.26H425.50" stroke="#1c1c1c" stroke-width="0.9" fill="none"/>
<rect x="437.60" y="287.96" width="6.8" height="11.84" fill="#b8103a" stroke="none"/>
<path d="M441.00,287.96V287.49M439.40,287.49H442.60" stroke="#1c1c1c" stroke-width="0.9" fill="none"/>
<rect x="448.05" y="287.25" width="6.8" height="12.55" fill="#27457f" stroke="none"/>
<path d="M451.45,287.25V286.78M449.85,286.78H453.05" stroke="#1c1c1c" stroke-width="0.9" fill="none"/>
<rect x="458.50" y="288.20" width="6.8" height="11.60" fill="#72b045" stroke="none"/>
<path d="M461.90,288.20V287.72M460.30,287.72H463.50" stroke="#1c1c1c" stroke-width="0.9" fill="none"/>
<path d="M317.2,299.80H469.8" stroke="#111" stroke-width="1.4" fill="none"/>
<text transform="translate(280,310.9) skewY(0.05)" font-size="8.2" textLength="31.2" lengthAdjust="spacingAndGlyphs" fill="#000">Cell line:</text>
<text transform="translate(281.7,327.2) skewY(0.05)" font-size="8.1" textLength="29" lengthAdjust="spacingAndGlyphs" fill="#000">Antigen:</text>
<text transform="translate(324.6,310.8) skewY(0.05)" font-size="8.2" textLength="23.6" lengthAdjust="spacingAndGlyphs" fill="#000">AMO1</text>
<text transform="translate(355,310.8) skewY(0.05)" font-size="8.2" textLength="39.4" lengthAdjust="spacingAndGlyphs" fill="#000">RPMI8226</text>
<text transform="translate(401.0,310.8) skewY(0.05)" font-size="8.2" textLength="23.0" lengthAdjust="spacingAndGlyphs" fill="#000">AMO1</text>
<text transform="translate(431.2,310.8) skewY(0.05)" font-size="8.2" textLength="40" lengthAdjust="spacingAndGlyphs" fill="#000">RPMI8226</text>
<path d="M322.5,315.8H393.5M402,315.8H469.5" stroke="#505050" stroke-width="0.9" fill="none"/>
<text transform="translate(357.9,326.8) skewY(0.05)" font-size="8.1" text-anchor="middle" textLength="24.2" lengthAdjust="spacingAndGlyphs" fill="#000">BCMA</text>
<text transform="translate(436,326.8) skewY(0.05)" font-size="8.1" text-anchor="middle" textLength="22" lengthAdjust="spacingAndGlyphs" fill="#000">CD38</text>
<rect x="437.0" y="201.70" width="5.0" height="5.0" fill="#b8103a" stroke="none"/>
<text transform="translate(445.7,206.90) skewY(0.05)" font-size="8.0" textLength="23.5" lengthAdjust="spacingAndGlyphs" fill="#000">DMSO</text>
<rect x="437.0" y="214.00" width="5.0" height="5.0" fill="#27457f" stroke="none"/>
<text transform="translate(445.7,219.20) skewY(0.05)" font-size="8.0" textLength="61.9" lengthAdjust="spacingAndGlyphs" fill="#000">5µM RO4929097</text>
<rect x="437.0" y="226.30" width="5.0" height="5.0" fill="#72b045" stroke="none"/>
<text transform="translate(445.7,231.50) skewY(0.05)" font-size="8.0" textLength="66.4" lengthAdjust="spacingAndGlyphs" fill="#000">10µM RO4929097</text>
<text transform="translate(288.6,250.8) rotate(-90) skewY(0.05)" font-size="9.3" text-anchor="middle" textLength="45.5" lengthAdjust="spacingAndGlyphs" fill="#000" stroke-width="0.3">Fold change in</text>
<text transform="translate(300.7,250.8) rotate(-90) skewY(0.05)" font-size="9.3" text-anchor="middle" textLength="71.5" lengthAdjust="spacingAndGlyphs" fill="#000" stroke-width="0.3">cell surface expression</text>
</g>
<defs>
<filter id="b1" x="-50%" y="-50%" width="200%" height="200%"><feGaussianBlur stdDeviation="1.0"/></filter>
<filter id="b2" x="-50%" y="-50%" width="200%" height="200%"><feGaussianBlur stdDeviation="0.95"/></filter>
<filter id="b3" x="-50%" y="-50%" width="200%" height="200%"><feGaussianBlur stdDeviation="1.7"/></filter>
<filter id="nz" x="0" y="0" width="100%" height="100%"><feTurbulence type="fractalNoise" baseFrequency="0.45" numOctaves="2" seed="7" result="t"/><feColorMatrix in="t" type="matrix" values="0 0 0 0 0  0 0 0 0 0  0 0 0 0 0  0.9 0 0 0 -0.33"/></filter>
<linearGradient id="g1" x1="0" y1="0" x2="0" y2="1"><stop offset="0" stop-color="#b0b0b0"/><stop offset="0.45" stop-color="#a4a4a4"/><stop offset="0.9" stop-color="#9c9c9c"/><stop offset="1" stop-color="#8a8a8a"/></linearGradient>
<linearGradient id="g3" x1="0" y1="0" x2="0" y2="1"><stop offset="0" stop-color="#a6a6a6"/><stop offset="0.5" stop-color="#9a9a9a"/><stop offset="0.9" stop-color="#989898"/><stop offset="1" stop-color="#848484"/></linearGradient>
<linearGradient id="g2" x1="0" y1="0" x2="0" y2="1"><stop offset="0" stop-color="#d2d2d2"/><stop offset="0.45" stop-color="#c6c6c6"/><stop offset="0.7" stop-color="#bcbcbc"/><stop offset="1" stop-color="#cccccc"/></linearGradient>
<clipPath id="c1"><rect x="297.4" y="413" width="41.6" height="26.6"/></clipPath>
<clipPath id="c2"><rect x="297.8" y="443.7" width="40.9" height="23.3"/></clipPath>
<clipPath id="c3"><rect x="354.8" y="413" width="42.8" height="26.4"/></clipPath>
<clipPath id="c4"><rect x="355" y="443.7" width="42" height="21.5"/></clipPath>
</defs>
<g clip-path="url(#c1)"><rect x="297" y="412.6" width="42.4" height="27.4" fill="url(#g1)"/>
<rect x="310.5" y="413" width="0.9" height="27" fill="#b6b6b6" opacity="0.6"/><rect x="324" y="413" width="0.9" height="27" fill="#b6b6b6" opacity="0.6"/>
<ellipse cx="317.4" cy="431.3" rx="6.2" ry="4.4" fill="#4a4a4a" filter="url(#b3)"/>
<ellipse cx="331.2" cy="431.3" rx="6" ry="4.4" fill="#4a4a4a" filter="url(#b3)"/>
<rect x="297.4" y="427.7" width="41.6" height="0.9" fill="#7c7c7c" filter="url(#b2)"/>
<ellipse cx="303.8" cy="427.2" rx="4.6" ry="1.6" fill="#767676" filter="url(#b1)"/>
<rect x="311.4" y="422.1" width="12" height="7.4" rx="3" fill="#030303" filter="url(#b1)"/>
<rect x="325.4" y="422.0" width="11.6" height="7.2" rx="3" fill="#030303" filter="url(#b1)"/>
<rect x="297.4" y="413" width="41.6" height="26.6" filter="url(#nz)" opacity="0.35"/>
</g>
<g clip-path="url(#c2)"><rect x="297.4" y="443.3" width="41.7" height="24.1" fill="url(#g2)"/>
<rect x="311.6" y="443.7" width="1.4" height="24" fill="#dadada" opacity="0.4"/><rect x="324.2" y="443.7" width="1.4" height="24" fill="#dadada" opacity="0.4"/>
<rect x="299.5" y="452.3" width="12.8" height="5.2" rx="2.6" fill="#040404" filter="url(#b2)"/>
<rect x="312.3" y="452.5" width="12.6" height="5.2" rx="2.6" fill="#040404" filter="url(#b2)"/>
<rect x="325.0" y="451.7" width="12.6" height="5.2" rx="2.6" fill="#040404" filter="url(#b2)"/>
<rect x="297.8" y="443.7" width="40.9" height="23.3" filter="url(#nz)" opacity="0.22"/>
</g>
<g clip-path="url(#c3)"><rect x="354.4" y="412.6" width="43.6" height="27.2" fill="url(#g3)"/>
<ellipse cx="374.3" cy="430.5" rx="4.6" ry="3" fill="#7c7c7c" filter="url(#b3)"/>
<ellipse cx="386.8" cy="430.5" rx="4.4" ry="3" fill="#7e7e7e" filter="url(#b3)"/>
<rect x="369.6" y="422.6" width="9.6" height="6.8" rx="2.8" fill="#1e1e1e" filter="url(#b1)"/>
<rect x="382.2" y="422.6" width="9.4" height="6.6" rx="2.8" fill="#2a2a2a" filter="url(#b1)"/>
<rect x="354.8" y="413" width="42.8" height="26.4" filter="url(#nz)" opacity="0.35"/>
</g>
<g clip-path="url(#c4)"><rect x="354.6" y="443.3" width="42.8" height="22.3" fill="url(#g2)"/>
<rect x="367.4" y="443.7" width="1.4" height="22" fill="#dadada" opacity="0.4"/><rect x="379.8" y="443.7" width="1.4" height="22" fill="#dadada" opacity="0.4"/>
<rect x="355.9" y="450.6" width="12.0" height="5.2" rx="2.6" fill="#040404" filter="url(#b2)"/>
<rect x="368.4" y="450.5" width="12.0" height="5.2" rx="2.6" fill="#040404" filter="url(#b2)"/>
<rect x="380.8" y="450.2" width="11.6" height="5.2" rx="2.6" fill="#040404" filter="url(#b2)"/>
<rect x="355" y="443.7" width="42" height="21.5" filter="url(#nz)" opacity="0.22"/>
</g>
<g font-family='"Liberation Sans", sans-serif' stroke="#000" stroke-width="0.1" filter="url(#sf2)">
<text transform="translate(313.4,362) skewY(0.05)" font-size="8.2" textLength="22.8" lengthAdjust="spacingAndGlyphs" fill="#000">AMO1</text>
<text transform="translate(360.1,362) skewY(0.05)" font-size="8.2" textLength="40.2" lengthAdjust="spacingAndGlyphs" fill="#000">RPMI8226</text>
<text transform="translate(317.7,377.2) skewY(0.05)" font-size="8.2" textLength="27.7" lengthAdjust="spacingAndGlyphs" fill="#000">RO492</text>
<text transform="translate(373.8,377.2) skewY(0.05)" font-size="8.2" textLength="27.7" lengthAdjust="spacingAndGlyphs" fill="#000">RO492</text>
<path d="M305.7,367.3H343.8M361.5,367.3H399.2M322.7,383.5H340.4M378.9,383.5H396.9" stroke="#111" stroke-width="0.9" fill="none"/>
<text transform="translate(303.3,409.6) rotate(-45) skewY(0.05)" font-size="8.3" fill="#111">DMSO</text>
<text transform="translate(318.0,410.8) rotate(-45) skewY(0.05)" font-size="8.3" fill="#111">5µM</text>
<text transform="translate(331.0,411.2) rotate(-45) skewY(0.05)" font-size="8.3" fill="#111">10µM</text>
<text transform="translate(358.2,410.3) rotate(-45) skewY(0.05)" font-size="8.3" fill="#111">DMSO</text>
<text transform="translate(373.0,410.8) rotate(-45) skewY(0.05)" font-size="8.3" fill="#111">5µM</text>
<text transform="translate(386.3,411.2) rotate(-45) skewY(0.05)" font-size="8.3" fill="#111">10µM</text>
<text transform="translate(422.4,425.8) skewY(0.05)" font-size="8.3" text-anchor="middle" textLength="43.1" lengthAdjust="spacingAndGlyphs" fill="#000">BCMA total</text>
<text transform="translate(421.2,435.8) skewY(0.05)" font-size="8.3" text-anchor="middle" textLength="24.7" lengthAdjust="spacingAndGlyphs" fill="#000">protein</text>
<text transform="translate(400.8,457.8) skewY(0.05)" font-size="8.3" textLength="30.4" lengthAdjust="spacingAndGlyphs" fill="#000">GAPDH</text>
</g>
</g>
</svg>
</body></html>
